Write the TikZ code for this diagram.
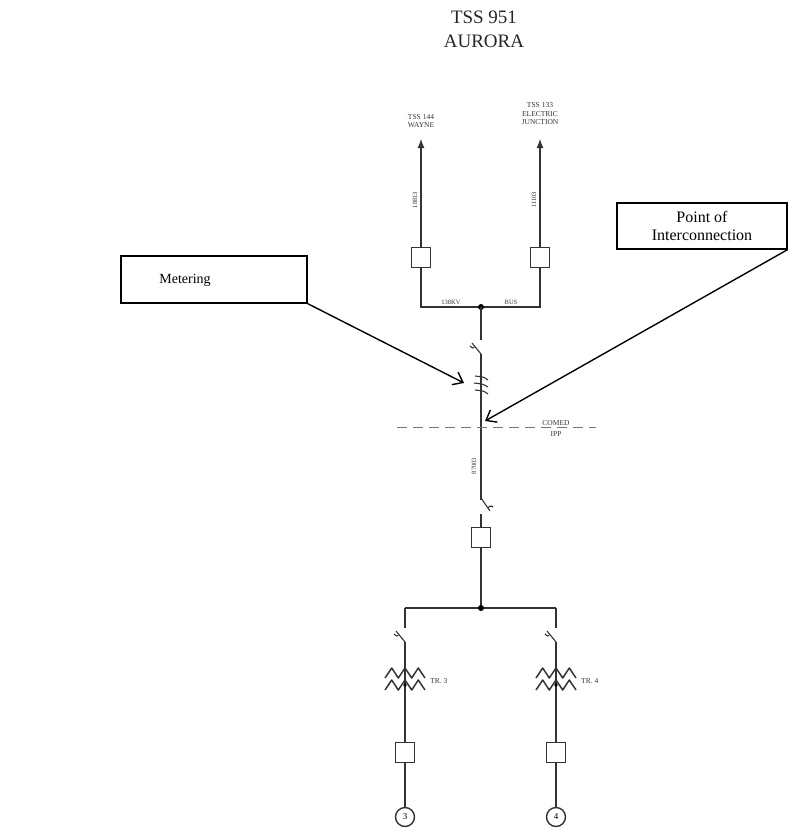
\documentclass[tikz,border=0pt]{standalone}
\usepackage{fontspec}
\setmainfont{Liberation Serif}
\usetikzlibrary{arrows.meta}
\begin{document}
\begin{tikzpicture}[x=1pt,y=-1pt,
  wire/.style={line width=1.1pt,black!80},
  zig/.style={line width=1.5pt,black!80,line join=round},
  brk/.style={draw=black!80,line width=0.9pt,fill=white,minimum width=19pt,minimum height=20pt,inner sep=0pt},
  callout/.style={draw,line width=1.2pt,fill=white,align=center,inner sep=0pt},
  tiny/.style={font=\fontsize{6.5}{7.5}\selectfont,inner sep=0pt,align=center,text=black!80},
  small/.style={font=\fontsize{7.5}{8.5}\selectfont,inner sep=0pt,align=center,text=black!80},
  gen/.style={draw=black!80,line width=1.4pt,circle,minimum size=19pt,inner sep=0pt,fill=white,font=\fontsize{9}{10}\selectfont},
  callarrow/.style={line width=1.4pt,-{Straight Barb[length=9pt,width=14pt]}},
  feedarrow/.style={-{Latex[length=9pt,width=7pt]}}
]
\useasboundingbox (0,0) rectangle (801,836);

% title
\node[font=\fontsize{19}{24}\selectfont,align=center,text=black!85] (title) at (484,29) {TSS 951\\AURORA};

% feeders
\node[small] (wayne) at (421,121) {TSS 144\\WAYNE};
\node[small] (ej) at (540,114) {TSS 133\\ELECTRIC\\JUNCTION};
\coordinate (tl) at (421,139);
\coordinate (tr) at (540,139);
\node[brk] (bl) at (421,257) {};
\node[brk] (br) at (540,257) {};
\coordinate (busl) at (421,307);
\coordinate (busr) at (540,307);
\coordinate (busc) at (481,307);
\draw[wire,feedarrow] (bl.north) -- (tl);
\draw[wire,feedarrow] (br.north) -- (tr);
\draw[wire] (bl.south) -- (busl) -- (busr) -- (br.south);
\fill[black] (busc) circle (3pt);
\node[tiny,rotate=90] (l1) at (415,200) {18813};
\node[tiny,rotate=90] (l2) at (534,200) {11103};
\node[tiny,anchor=south] (kv) at (451,305) {138KV};
\node[tiny,anchor=south] (bus) at (511,305) {BUS};

% main vertical upper
\coordinate (sw1t) at (481,340);
\coordinate (sw1b) at (481,354);
\draw[wire] (busc) -- (sw1t);
\draw[wire] (sw1b) -- (472,343);
\draw[wire] (470,346) arc[start angle=200,end angle=300,radius=3pt];
\coordinate (ct) at (481,383);
\draw[wire] (sw1b) -- (481,500);
% CT
\draw[wire] (475,376) .. controls (484,377) .. (488,380);
\draw[wire] (474,383) .. controls (483,384) .. (488,387);
\draw[wire] (475,390) .. controls (484,391) .. (488,394);

% dashed boundary
\draw[line width=1pt,black!55,dash pattern=on 10pt off 6pt] (397,427) -- (596,427);
\node[small,anchor=south] (comed) at (556,426) {COMED};
\node[small,anchor=north] (ipp) at (556,431) {IPP};
\node[tiny,rotate=90] (l3) at (474,466) {87003};

% lower switch & breaker
\coordinate (sw2) at (481,514);
\draw[wire] (481,498) -- (490,511);
\draw[wire] (488,508) arc[start angle=160,end angle=40,radius=3pt];
\node[brk] (bm) at (481,537) {};
\draw[wire] (sw2) -- (bm.north);
\coordinate (lbc) at (481,608);
\coordinate (lbl) at (405,608);
\coordinate (lbr) at (556,608);
\draw[wire] (bm.south) -- (lbc);
\draw[wire] (lbl) -- (lbr);
\fill[black] (lbc) circle (3pt);

% branches
\foreach \x/\n/\lab in {405/3/TR. 3,556/4/TR. 4}{
  \draw[wire] (\x,608) -- (\x,628);
  \draw[wire] (\x,642) -- (\x-9,631);
  \draw[wire] (\x-11,634) arc[start angle=200,end angle=300,radius=3pt];
  \draw[wire] (\x,642) -- (\x,752);
  \draw[zig] (\x-20,678) -- (\x-13.3,668) -- (\x-6.7,678) -- (\x,668) -- (\x+6.7,678) -- (\x+13.3,668) -- (\x+20,678);
  \draw[zig] (\x-20,690) -- (\x-13.3,680) -- (\x-6.7,690) -- (\x,680) -- (\x+6.7,690) -- (\x+13.3,680) -- (\x+20,690);
  \fill (\x,685) circle (1.8pt);
  \node[small,anchor=west] at (\x+25,681) {\lab};
  \node[brk] (b\n) at (\x,752) {};
  \node[gen] (g\n) at (\x,817) {\n};
  \draw[wire] (b\n.south) -- (g\n.north);
}

% callouts
\node[callout,minimum width=186pt,minimum height=47pt] (met) at (214,279.5) {};
\node[font=\fontsize{14}{16}\selectfont,inner sep=0pt] (mettext) at (185,280) {Metering};
\node[callout,minimum width=170pt,minimum height=46pt,font=\fontsize{16}{18}\selectfont] (poi) at (702,226) {Point of\\Interconnection};
\coordinate (mettip) at (464,383);
\coordinate (poitip) at (485,421);
\draw[callarrow] (met.south east) -- (mettip);
\draw[callarrow] (poi.south east) -- (poitip);
\end{tikzpicture}
\end{document}
